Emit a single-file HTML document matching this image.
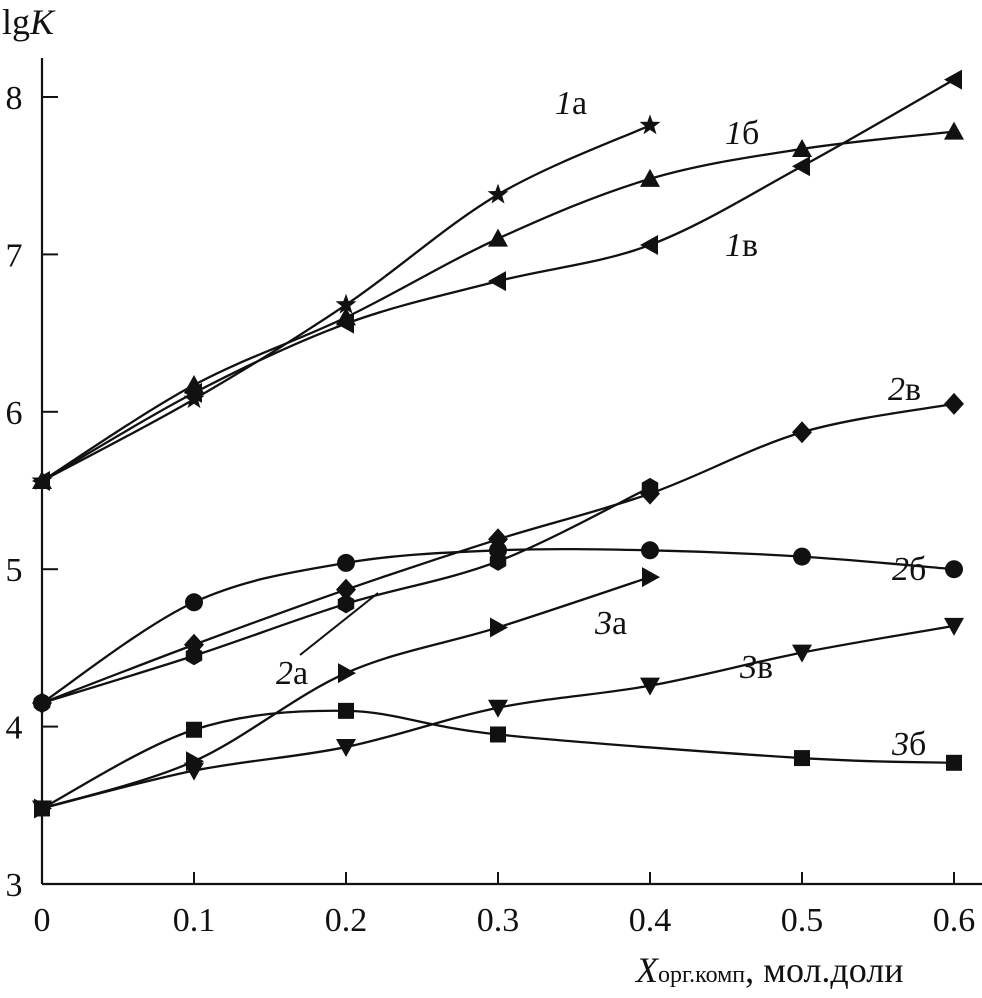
<!DOCTYPE html>
<html><head><meta charset="utf-8"><style>
html,body{margin:0;padding:0;background:#fff}
svg{display:block;font-family:"Liberation Serif",serif}
</style></head><body>
<svg id="chart" width="982" height="998" viewBox="0 0 982 998">
<g id="axes"></g>
<g id="series"></g>
<g id="labels"></g>
</svg>
<script>
const xTicks=[0,0.1,0.2,0.3,0.4,0.5,0.6];
const xTickLabels=["0","0.1","0.2","0.3","0.4","0.5","0.6"];
const yTicks=[3,4,5,6,7,8];
const yTickLabels=["3","4","5","6","7","8"];
const x1a=[0,0.1,0.2,0.3,0.4];           const y1a=[5.56,6.08,6.68,7.38,7.82];
const x1b=[0,0.1,0.2,0.3,0.4,0.5,0.6];   const y1b=[5.56,6.17,6.60,7.10,7.48,7.67,7.78];
const x1v=[0,0.1,0.2,0.3,0.4,0.5,0.6];   const y1v=[5.56,6.12,6.56,6.83,7.06,7.56,8.11];
const x2v=[0,0.1,0.2,0.3,0.4,0.5,0.6];   const y2v=[4.15,4.52,4.87,5.19,5.48,5.87,6.05];
const x2b=[0,0.1,0.2,0.3,0.4,0.5,0.6];   const y2b=[4.15,4.79,5.04,5.12,5.12,5.08,5.00];
const x2a=[0,0.1,0.2,0.3,0.4];           const y2a=[4.15,4.45,4.78,5.05,5.52];
const x3a=[0,0.1,0.2,0.3,0.4];           const y3a=[3.48,3.78,4.34,4.63,4.95];
const x3v=[0,0.1,0.2,0.3,0.4,0.5,0.6];   const y3v=[3.48,3.72,3.87,4.12,4.26,4.47,4.64];
const x3b=[0,0.1,0.2,0.3,0.5,0.6];       const y3b=[3.48,3.98,4.10,3.95,3.80,3.77];

const NS="http://www.w3.org/2000/svg";
const X=v=>42+v*1520;
const Y=v=>884-(v-3)*157.4;
function mk(tag,attrs,parent){const e=document.createElementNS(NS,tag);for(const k in attrs)e.setAttribute(k,attrs[k]);parent.appendChild(e);return e;}
const axes=document.getElementById('axes');
let l=mk('line',{x1:42,y1:884,x2:985,y2:884,stroke:'#111','stroke-width':2.2},axes);


l=mk('line',{x1:42,y1:884,x2:42,y2:58,stroke:'#111','stroke-width':2.2},axes);


xTicks.forEach((v,i)=>{
 if(i>0){const t=mk('line',{x1:X(v),y1:884,x2:X(v),y2:872,stroke:'#111','stroke-width':2},axes);
 
 }
 const tx=mk('text',{x:X(v),y:931,'font-size':34,'text-anchor':'middle',fill:'#111'},axes);tx.textContent=xTickLabels[i];
 
 
});
yTicks.forEach((v,i)=>{
 if(i>0){const t=mk('line',{x1:42,y1:Y(v),x2:58,y2:Y(v),stroke:'#111','stroke-width':2},axes);
 
 }
 const tx=mk('text',{x:14,y:Y(v)+12,'font-size':34,'text-anchor':'middle',fill:'#111'},axes);tx.textContent=yTickLabels[i];
 
 
});
let t=mk('text',{x:2,y:34,'font-size':36,fill:'#111'},axes);
t.innerHTML='lg<tspan font-style="italic">K</tspan>';


t=mk('text',{x:636,y:982,'font-size':36,fill:'#111'},axes);
t.innerHTML='<tspan font-style="italic">X</tspan><tspan font-size="24">орг.комп</tspan>, мол.доли';



function path(xs,ys){
 const p=xs.map((x,i)=>[X(x),Y(ys[i])]);
 let d='M'+p[0][0]+','+p[0][1];
 for(let i=0;i<p.length-1;i++){
  const p0=p[i-1]||p[i],p1=p[i],p2=p[i+1],p3=p[i+2]||p2;
  const c1=[p1[0]+(p2[0]-p0[0])/6,p1[1]+(p2[1]-p0[1])/6];
  const c2=[p2[0]-(p3[0]-p1[0])/6,p2[1]-(p3[1]-p1[1])/6];
  d+=` C${c1[0]},${c1[1]} ${c2[0]},${c2[1]} ${p2[0]},${p2[1]}`;
 }
 return d;
}
function marker(g,type,cx,cy){
 const s=10;let e;
 if(type==='circle')e=mk('circle',{cx,cy,r:9},g);
 else if(type==='square')e=mk('rect',{x:cx-8,y:cy-8,width:16,height:16},g);
 else if(type==='diamond')e=mk('polygon',{points:`${cx},${cy-11} ${cx+10},${cy} ${cx},${cy+11} ${cx-10},${cy}`},g);
 else if(type==='hex'){let pts=[];for(let k=0;k<6;k++){const a=Math.PI/6+k*Math.PI/3;pts.push((cx+9.5*Math.cos(a))+','+(cy+9.5*Math.sin(a)));}e=mk('polygon',{points:pts.join(' ')},g);}
 else if(type==='up')e=mk('polygon',{points:`${cx},${cy-s} ${cx+s},${cy+8} ${cx-s},${cy+8}`},g);
 else if(type==='down')e=mk('polygon',{points:`${cx},${cy+s} ${cx+s},${cy-8} ${cx-s},${cy-8}`},g);
 else if(type==='left')e=mk('polygon',{points:`${cx-s},${cy} ${cx+8},${cy-s} ${cx+8},${cy+s}`},g);
 else if(type==='right')e=mk('polygon',{points:`${cx+s},${cy} ${cx-8},${cy-s} ${cx-8},${cy+s}`},g);
 else if(type==='star'){let pts=[];for(let k=0;k<10;k++){const r=k%2?4.5:11;const a=-Math.PI/2+k*Math.PI/5;pts.push((cx+r*Math.cos(a))+','+(cy+r*Math.sin(a)));}e=mk('polygon',{points:pts.join(' ')},g);}
 e.setAttribute('fill','#111');
 
 
}
const ser=document.getElementById('series');
const defs=[['series-1a',x1a,y1a,'star'],['series-1b',x1b,y1b,'up'],['series-1v',x1v,y1v,'left'],
['series-2v',x2v,y2v,'diamond'],['series-2b',x2b,y2b,'circle'],['series-2a',x2a,y2a,'hex'],
['series-3a',x3a,y3a,'right'],['series-3v',x3v,y3v,'down'],['series-3b',x3b,y3b,'square']];
defs.forEach(([name,xs,ys,m])=>{
 const g=mk('g',{},ser);
 
 
 const p=mk('path',{d:path(xs,ys),fill:'none',stroke:'#111','stroke-width':2.3},g);
 
 
 xs.forEach((x,i)=>marker(g,m,X(x),Y(ys[i])));
});
const lab=document.getElementById('labels');
const labs=[['1','а',555,114],['1','б',725,144],['1','в',725,256],['2','в',888,400],['2','б',892,580],['2','а',276,684],['3','а',595,634],['3','в',740,678],['3','б',892,755]];
labs.forEach(([n,s,x,y])=>{
 const e=mk('text',{x,y,'font-size':34,fill:'#111'},lab);
 e.innerHTML=`<tspan font-style="italic">${n}</tspan>${s}`;
 
 
});
const ld=mk('line',{x1:300,y1:655,x2:378,y2:593,stroke:'#111','stroke-width':2},lab);


</script>
</body></html>
